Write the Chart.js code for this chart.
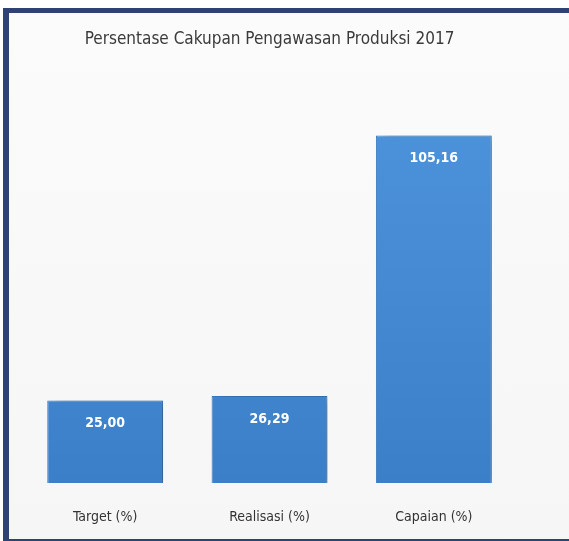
<!DOCTYPE html>
<html>
<head>
<meta charset="utf-8">
<script src="https://cdn.jsdelivr.net/npm/chart.js@4"></script>
<style>
  body { margin: 0; background: #fff; }
  #wrap { position: relative; width: 569px; height: 541px; overflow: hidden; }
  #frame {
    position: absolute; left: 3px; top: 8px; width: 600px; height: 526px;
    border-left: 6px solid #2e4274; border-top: 5px solid #2e4274; border-bottom: 4px solid #2e4274;
    background: linear-gradient(#fbfbfb, #f6f6f6);
  }
  canvas { position: absolute; left: 0; top: 0; }
</style>
</head>
<body>
<div id="wrap">
  <div id="frame"></div>
  <canvas id="chart" width="569" height="541"></canvas>
</div>
<script>
const labels = ["Target (%)", "Realisasi (%)", "Capaian (%)"];
const values = [25.0, 26.29, 105.16];
const valueText = ["25,00", "26,29", "105,16"];

const ctx = document.getElementById("chart").getContext("2d");

const barFill = ctx.createLinearGradient(0, 130, 0, 485);
barFill.addColorStop(0, "#4c92da");
barFill.addColorStop(1, "#3b7fc8");

const barShadow = {
  id: "barShadow",
  beforeDatasetsDraw(chart) {
    const c = chart.ctx;
    c.save();
    c.shadowColor = "rgba(0,0,0,0.28)";
    c.shadowOffsetX = 9;
    c.shadowOffsetY = 2;
    c.shadowBlur = 9;
  },
  afterDatasetsDraw(chart) {
    chart.ctx.restore();
  },
};

const valueLabels = {
  id: "valueLabels",
  afterDatasetsDraw(chart) {
    const c = chart.ctx;
    const meta = chart.getDatasetMeta(0);
    c.save();
    c.fillStyle = "#ffffff";
    c.font = "bold 14px 'Liberation Sans Narrow', 'DejaVu Sans Condensed', sans-serif";
    c.textAlign = "center";
    c.textBaseline = "middle";
    meta.data.forEach((bar, i) => {
      c.fillText(valueText[i], bar.x, bar.y + 23);
    });
    c.restore();
  },
};

new Chart(ctx, {
  type: "bar",
  data: {
    labels: labels,
    datasets: [
      {
        data: values,
        backgroundColor: barFill,
        borderColor: "#3778bf",
        borderWidth: 1,
        categoryPercentage: 1,
        barPercentage: 0.705,
      },
    ],
  },
  plugins: [barShadow, valueLabels],
  options: {
    responsive: false,
    animation: false,
    layout: {
      padding: { left: 23, right: 53, top: 0, bottom: 15 },
    },
    plugins: {
      legend: { display: false },
      tooltip: { enabled: false },
      title: {
        display: true,
        text: "Persentase Cakupan Pengawasan Produksi 2017",
        color: "#3a3a3a",
        font: { family: "'Liberation Sans Narrow', 'DejaVu Sans Condensed', sans-serif", size: 17, weight: "normal" },
        padding: { top: 29, bottom: 37 },
      },
    },
    scales: {
      x: {
        grid: { display: false, drawTicks: false },
        border: { display: false },
        ticks: {
          color: "#333333",
          padding: 26,
          font: { family: "'Liberation Sans Narrow', 'DejaVu Sans Condensed', sans-serif", size: 14 },
        },
        afterFit(scale) {
          scale.height = 43;
        },
      },
      y: {
        display: false,
        min: 0,
        max: 120,
      },
    },
  },
});
</script>
</body>
</html>
